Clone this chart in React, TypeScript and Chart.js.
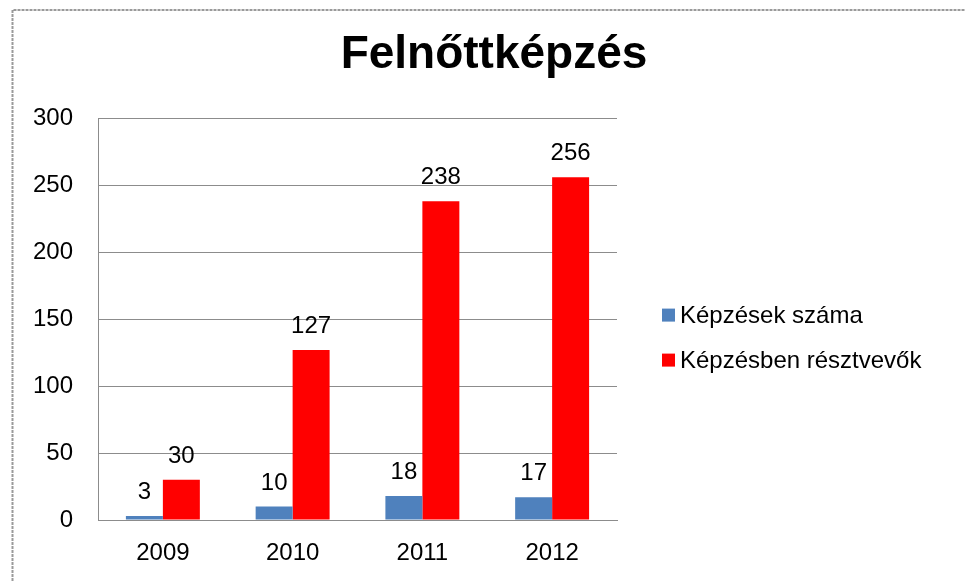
import React, { useEffect, useRef } from 'react';
import { Chart, registerables } from 'chart.js';

Chart.register(...registerables);

const titleText = 'Felnőttképzés';
const categories = ['2009', '2010', '2011', '2012'];
const seriesNames = ['Képzések száma', 'Képzésben résztvevők'];
const kepzesekSzama = [3, 10, 18, 17];
const resztvevok = [30, 127, 238, 256];
const yTicks = [0, 50, 100, 150, 200, 250, 300];
const seriesColors = ['#4F81BD', '#FF0000'];

const FONT = '"Liberation Sans", Arial, Helvetica, sans-serif';
const TEXT_SIZE = 24;

const valueLabels = {
  id: 'valueLabels',
  afterDatasetsDraw(chart: any) {
    const ctx = chart.ctx;
    ctx.save();
    ctx.font = `${TEXT_SIZE}px ${FONT}`;
    ctx.fillStyle = '#000';
    ctx.textAlign = 'center';
    ctx.textBaseline = 'alphabetic';
    chart.data.datasets.forEach((ds: any, i: number) => {
      const meta = chart.getDatasetMeta(i);
      meta.data.forEach((bar: any, j: number) => {
        ctx.fillText(String(ds.data[j]), bar.x, bar.y - 17);
      });
    });
    ctx.restore();
  },
};

// Legend on the right, drawn from the chart's own datasets
const sideLegend = {
  id: 'sideLegend',
  afterDraw(chart: any) {
    const ctx = chart.ctx;
    const area = chart.chartArea;
    const x0 = area.right + 45;
    const yMid = (area.top + area.bottom) / 2;
    const spacing = 45;
    const n = chart.data.datasets.length;
    const yStart = yMid + 19 - ((n - 1) * spacing) / 2;
    ctx.save();
    ctx.font = `${TEXT_SIZE}px ${FONT}`;
    ctx.textAlign = 'left';
    ctx.textBaseline = 'middle';
    chart.data.datasets.forEach((ds: any, i: number) => {
      const cy = yStart + i * spacing;
      ctx.fillStyle = ds.backgroundColor;
      ctx.fillRect(x0, cy - 7, 13, 13);
      ctx.fillStyle = '#000';
      ctx.fillText(ds.label, x0 + 18, cy + 1);
    });
    ctx.restore();
  },
};

const frameBorder = {
  id: 'frameBorder',
  beforeDraw(chart: any) {
    const ctx = chart.ctx;
    ctx.save();
    ctx.strokeStyle = '#9a9a9a';
    ctx.lineWidth = 2;
    ctx.setLineDash([3, 1]);
    ctx.beginPath();
    ctx.moveTo(12.5, chart.height);
    ctx.lineTo(12.5, 10);
    ctx.lineTo(chart.width, 10);
    ctx.stroke();
    ctx.restore();
  },
};

export default function App() {
  const canvasRef = useRef<HTMLCanvasElement | null>(null);

  useEffect(() => {
    if (!canvasRef.current) return;
    const chart = new Chart(canvasRef.current, {
      type: 'bar',
      data: {
        labels: categories,
        datasets: [
          {
            label: seriesNames[0],
            data: kepzesekSzama,
            backgroundColor: seriesColors[0],
            borderWidth: 0,
            yAxisID: 'y',
          },
          {
            label: seriesNames[1],
            data: resztvevok,
            backgroundColor: seriesColors[1],
            borderWidth: 0,
            yAxisID: 'y',
          },
        ],
      },
      options: {
        animation: false,
        responsive: true,
        maintainAspectRatio: false,
        datasets: {
          bar: { categoryPercentage: 0.57, barPercentage: 1 },
        },
        layout: {
          padding: { left: 30, right: 7, top: 0, bottom: 0 },
        },
        scales: {
          x: {
            grid: { display: false, drawTicks: false },
            border: { display: true, color: '#8c8c8c', width: 1 },
            ticks: {
              color: '#000',
              font: { family: FONT, size: TEXT_SIZE },
              padding: 19,
              maxRotation: 0,
            },
            afterFit: (s: any) => {
              s.height = 61;
            },
          },
          y: {
            min: yTicks[0],
            max: yTicks[yTicks.length - 1],
            grid: { color: '#8c8c8c', drawTicks: false, lineWidth: 1 },
            border: { display: true, color: '#8c8c8c', width: 1 },
            ticks: {
              stepSize: yTicks[1] - yTicks[0],
              color: '#000',
              font: { family: FONT, size: TEXT_SIZE },
              padding: 25,
            },
            afterFit: (s: any) => {
              s.width = 68;
            },
          },
          spacer: {
            type: 'linear',
            position: 'right',
            display: true,
            grid: { display: false, drawTicks: false },
            border: { display: false },
            ticks: { display: false },
            afterFit: (s: any) => {
              s.width = 341;
            },
          },
        },
        plugins: {
          title: {
            display: true,
            text: titleText,
            color: '#000',
            font: { family: FONT, size: 46, weight: 'bold' },
            padding: { top: 28, bottom: 35 },
          },
          legend: { display: false },
          tooltip: { enabled: false },
        },
      },
      plugins: [valueLabels, sideLegend, frameBorder],
    } as any);
    return () => chart.destroy();
  }, []);

  return (
    <div style={{ position: 'fixed', left: 0, top: 0, width: 965, height: 581, background: '#fff' }}>
      <canvas ref={canvasRef} />
    </div>
  );
}
